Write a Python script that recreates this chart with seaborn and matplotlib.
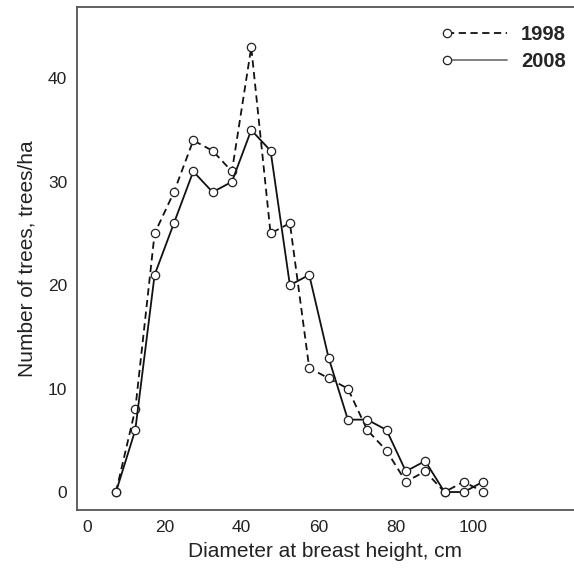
import matplotlib
matplotlib.use("Agg")
import matplotlib.pyplot as plt
from matplotlib.legend_handler import HandlerLine2D
import pandas as pd
import seaborn as sns

# Data
dbh = [7.5, 12.5, 17.5, 22.5, 27.5, 32.5, 37.5, 42.5, 47.5, 52.5,
       57.5, 62.5, 67.5, 72.5, 77.5, 82.5, 87.5, 92.5, 97.5, 102.5]
trees_1998 = [0, 8, 25, 29, 34, 33, 31, 43, 25, 26,
              12, 11, 10, 6, 4, 1, 2, 0, 1, 0]
trees_2008 = [0, 6, 21, 26, 31, 29, 30, 35, 33, 20,
              21, 13, 7, 7, 6, 2, 3, 0, 0, 1]
x_ticks = [0, 20, 40, 60, 80, 100]
y_ticks = [0, 10, 20, 30, 40]

df = pd.DataFrame({"dbh": dbh * 2,
                   "trees": trees_1998 + trees_2008,
                   "year": ["1998"] * len(dbh) + ["2008"] * len(dbh)})

sns.set_style("white")
plt.rcParams["font.family"] = ["Liberation Sans", "DejaVu Sans"]


class MarkerFirst(HandlerLine2D):
    # legend handle with the circle only at the left end of the line
    def create_artists(self, *args, **kwargs):
        arts = super().create_artists(*args, **kwargs)
        for a in arts:
            if a.get_marker() not in (None, "None", ""):
                a.set_markevery([0])
        return arts


fig = plt.figure(figsize=(5.74, 5.78), dpi=100)
ax = fig.add_axes([0.134, 0.1176, 0.866, 0.8703])

styles = {"1998": (0, (4, 2.5)), "2008": "-"}
for yr, sub in df.groupby("year"):
    sns.lineplot(data=sub, x="dbh", y="trees", ax=ax, color="#111111",
                 linestyle=styles[yr], linewidth=1.3,
                 marker="o", markersize=6, markerfacecolor="white",
                 markeredgecolor="#222222", markeredgewidth=0.9,
                 label=yr)

ax.set_xlim(-2.6, 126)
ax.set_ylim(-1.74, 46.9)
ax.set_xticks(x_ticks)
ax.set_yticks(y_ticks)
ax.tick_params(direction="in", length=4, width=1, colors="#333333",
               labelsize=12.5, labelcolor="#222222", pad=7)
for s in ["left", "bottom", "top"]:
    ax.spines[s].set_color("#555555")
    ax.spines[s].set_linewidth(1.3)
ax.spines["right"].set_visible(False)

ax.set_xlabel("Diameter at breast height, cm", fontsize=15, color="#222222", labelpad=5)
ax.set_ylabel("Number of trees, trees/ha", fontsize=15, color="#222222", labelpad=8)

h, l = ax.get_legend_handles_labels()
h[1].set_color("#777777")
leg = ax.legend(h, l, loc="upper right", frameon=False, numpoints=2,
                handlelength=3.6, handletextpad=0.4, labelspacing=0.4,
                borderaxespad=0,
                prop={"weight": "bold", "size": 14.5},
                handler_map={type(h[0]): MarkerFirst(numpoints=2)},
                bbox_to_anchor=(1.0, 0.98))
h[1].set_color("#111111")

fig.savefig("out.png", dpi=100)
